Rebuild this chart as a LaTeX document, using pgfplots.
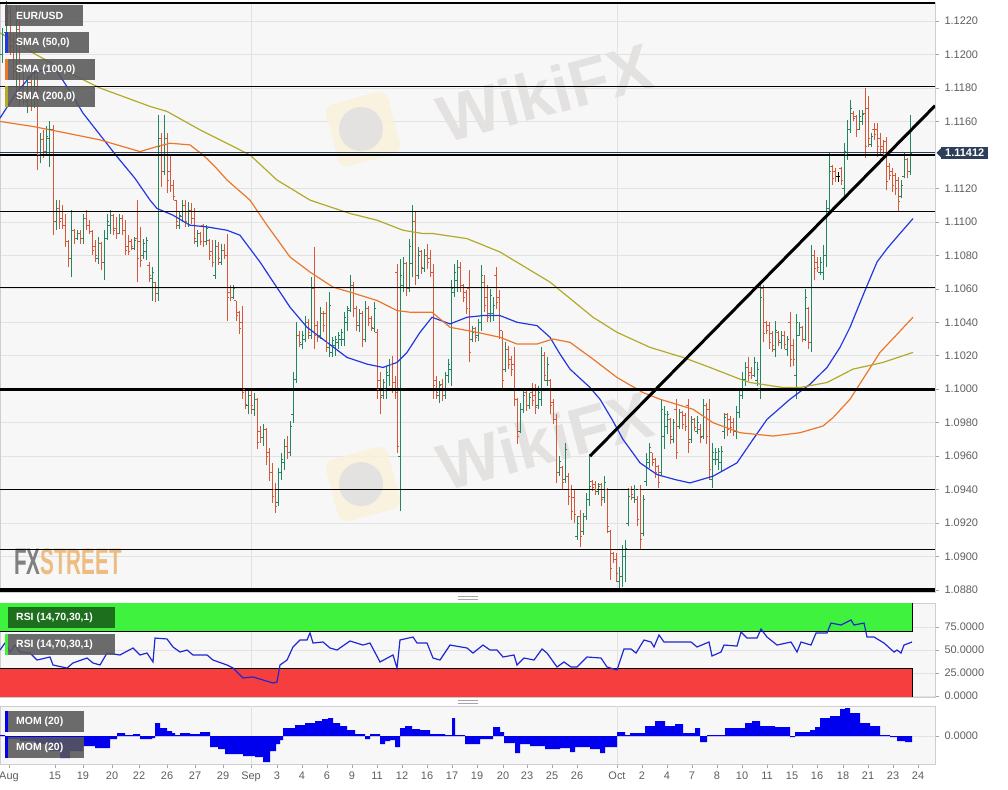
\documentclass[border=0pt]{standalone}
\usepackage{fontspec}
\setmainfont{Liberation Sans}
\usepackage{pgfplots}
\pgfplotsset{compat=1.18}
\usepackage{pgfplotstable}

\definecolor{upc}{RGB}{34,135,95}
\definecolor{dnc}{RGB}{214,88,58}
\definecolor{smaA}{RGB}{35,55,225}
\definecolor{smaB}{RGB}{236,118,44}
\definecolor{smaC}{RGB}{178,170,40}
\definecolor{bgc}{RGB}{247,247,247}
\definecolor{gridc}{RGB}{226,226,226}
\definecolor{linec}{RGB}{205,205,210}
\definecolor{tlc}{RGB}{95,95,95}
\definecolor{rsig}{RGB}{62,242,62}
\definecolor{rsir}{RGB}{246,62,62}
\definecolor{rsil}{RGB}{30,40,210}
\definecolor{momc}{RGB}{0,0,238}
\definecolor{labc}{RGB}{88,88,88}
\definecolor{rsidk}{RGB}{25,92,25}
\definecolor{lpc}{RGB}{44,62,88}
\definecolor{wmc}{RGB}{228,225,225}
\definecolor{wmy}{RGB}{250,241,218}
\definecolor{fxg}{RGB}{128,128,128}
\definecolor{fxt}{RGB}{236,188,128}

\pgfdeclareplotmark{otick}{\pgfpathmoveto{\pgfqpoint{-1.8pt}{0pt}}\pgfpathlineto{\pgfqpoint{0pt}{0pt}}\pgfusepathqstroke}
\pgfdeclareplotmark{ctick}{\pgfpathmoveto{\pgfqpoint{0pt}{0pt}}\pgfpathlineto{\pgfqpoint{1.8pt}{0pt}}\pgfusepathqstroke}

% OHLC bars, x in chart position units
\pgfplotstableread{
x o h l c
2 1.1200 1.1216 1.1195 1.1212
6 1.1213 1.1232 1.1210 1.1226
16 1.1190 1.1229 1.1173 1.1215
27 1.1172 1.1187 1.1165 1.1183
34 1.1175 1.1190 1.1168 1.1186
40 1.1140 1.1153 1.1135 1.1149
46 1.1142 1.1157 1.1140 1.1151
49 1.1150 1.1160 1.1133 1.1155
56 1.1100 1.1113 1.1095 1.1108
71 1.1078 1.1107 1.1067 1.1095
77 1.1090 1.1095 1.1089 1.1093
83 1.1090 1.1105 1.1087 1.1102
98 1.1078 1.1091 1.1075 1.1087
104 1.1076 1.1095 1.1065 1.1090
107 1.1090 1.1105 1.1089 1.1100
110 1.1098 1.1107 1.1093 1.1104
119 1.1093 1.1105 1.1093 1.1102
134 1.1084 1.1091 1.1083 1.1089
143 1.1080 1.1090 1.1078 1.1087
146 1.1082 1.1091 1.1077 1.1089
152 1.1066 1.1073 1.1053 1.1070
158 1.1057 1.1164 1.1053 1.1145
164 1.1130 1.1164 1.1128 1.1150
179 1.1098 1.1106 1.1096 1.1104
182 1.1103 1.1113 1.1100 1.1110
188 1.1099 1.1112 1.1097 1.1107
197 1.1088 1.1095 1.1085 1.1093
206 1.1088 1.1098 1.1086 1.1096
215 1.1068 1.1089 1.1066 1.1085
221 1.1076 1.1087 1.1074 1.1083
233 1.1055 1.1062 1.1054 1.1060
248 1.0990 1.0999 1.0985 1.0996
254 1.0988 1.0998 1.0984 1.0994
263 1.0971 1.0979 1.0966 1.0976
278 1.0932 1.0953 1.0930 1.0950
281 1.0950 1.0962 1.0946 1.0958
284 1.0956 1.0970 1.0952 1.0966
290 1.0962 1.0981 1.0960 1.0978
293 1.0985 1.1010 1.0980 1.1006
296 1.1006 1.1040 1.1004 1.1032
302 1.1027 1.1035 1.1024 1.1032
305 1.1030 1.1044 1.1028 1.1040
311 1.1032 1.1067 1.1030 1.1060
320 1.1032 1.1049 1.1030 1.1045
329 1.1025 1.1058 1.1019 1.1050
332 1.1022 1.1031 1.1019 1.1029
335 1.1026 1.1032 1.1020 1.1030
338 1.1028 1.1034 1.1024 1.1032
341 1.1030 1.1036 1.1026 1.1034
344 1.1030 1.1046 1.1026 1.1043
347 1.1040 1.1050 1.1035 1.1048
350 1.1047 1.1068 1.1046 1.1062
359 1.1038 1.1048 1.1034 1.1045
365 1.1030 1.1053 1.1028 1.1048
374 1.1036 1.1052 1.1034 1.1048
383 1.0996 1.1006 1.0994 1.1004
386 1.1000 1.1014 1.0994 1.1010
389 1.1008 1.1018 1.1002 1.1015
400 1.0960 1.1078 1.0927 1.1068
403 1.1062 1.1079 1.1058 1.1075
409 1.1060 1.1090 1.1058 1.1085
412 1.1075 1.1110 1.1067 1.1100
418 1.1068 1.1085 1.1066 1.1080
424 1.1072 1.1084 1.1070 1.1080
439 1.0996 1.1005 1.0992 1.1002
445 1.0996 1.1010 1.0994 1.1008
448 1.1008 1.1018 1.1004 1.1015
451 1.1012 1.1065 1.1002 1.1060
454 1.1058 1.1075 1.1055 1.1070
457 1.1065 1.1077 1.1058 1.1073
472 1.1030 1.1038 1.1028 1.1034
478 1.1032 1.1042 1.1029 1.1040
481 1.1040 1.1074 1.1035 1.1068
490 1.1045 1.1060 1.1040 1.1056
493 1.1045 1.1055 1.1041 1.1050
505 1.1012 1.1028 1.1010 1.1024
520 1.0975 1.0992 1.0974 1.0988
523 1.0988 1.1000 1.0986 1.0996
529 1.0990 1.0998 1.0988 1.0995
538 1.0990 1.1002 1.0988 1.0998
541 1.0994 1.1025 1.0990 1.1020
547 1.1005 1.1019 1.1002 1.1015
559 1.0950 1.0960 1.0948 1.0957
565 1.0946 1.0968 1.0944 1.0964
577 1.0912 1.0924 1.0910 1.0920
583 1.0915 1.0926 1.0913 1.0924
586 1.0924 1.0938 1.0922 1.0934
589 1.0934 1.0961 1.0930 1.0942
598 1.0939 1.0944 1.0937 1.0942
604 1.0935 1.0948 1.0932 1.0944
619 1.0885 1.0894 1.0880 1.0888
622 1.0888 1.0907 1.0882 1.0900
625 1.0900 1.0910 1.0885 1.0905
628 1.0920 1.0941 1.0918 1.0936
634 1.0935 1.0943 1.0932 1.0940
643 1.0914 1.0937 1.0912 1.0934
646 1.0945 1.0962 1.0942 1.0958
649 1.0956 1.0968 1.0953 1.0965
661 1.0950 1.0994 1.0948 1.0988
664 1.0972 1.0990 1.0964 1.0985
667 1.0978 1.0987 1.0973 1.0985
673 1.0970 1.0982 1.0968 1.0980
679 1.0978 1.0988 1.0976 1.0986
691 1.0970 1.0984 1.0968 1.0980
697 1.0975 1.0984 1.0973 1.0980
703 1.0972 1.0994 1.0970 1.0990
712 1.0946 1.0968 1.0941 1.0962
715 1.0958 1.0965 1.0955 1.0962
718 1.0958 1.0965 1.0952 1.0963
721 1.0956 1.0966 1.0951 1.0963
724 1.0975 1.0986 1.0970 1.0983
736 1.0975 1.0990 1.0970 1.0986
739 1.0986 1.1000 1.0983 1.0996
742 1.0996 1.1010 1.0994 1.1006
745 1.1006 1.1016 1.1002 1.1013
754 1.1008 1.1019 1.1007 1.1016
757 1.1005 1.1016 1.1002 1.1012
760 1.1000 1.1062 1.0994 1.1055
775 1.1024 1.1041 1.1019 1.1035
781 1.1028 1.1035 1.1024 1.1032
787 1.1024 1.1032 1.1020 1.1030
796 1.1008 1.1045 1.0994 1.1040
799 1.1032 1.1040 1.1032 1.1037
805 1.1030 1.1060 1.1029 1.1055
811 1.1028 1.1086 1.1022 1.1080
820 1.1070 1.1079 1.1068 1.1076
823 1.1070 1.1086 1.1065 1.1080
826 1.1080 1.1113 1.1073 1.1108
829 1.1108 1.1141 1.1105 1.1130
844 1.1120 1.1147 1.1113 1.1142
847 1.1140 1.1161 1.1137 1.1155
850 1.1155 1.1173 1.1153 1.1168
859 1.1155 1.1167 1.1155 1.1163
862 1.1160 1.1167 1.1158 1.1164
871 1.1146 1.1153 1.1145 1.1151
901 1.1115 1.1125 1.1114 1.1122
904 1.1127 1.1141 1.1126 1.1137
910 1.1130 1.1164 1.1128 1.1141
}\upbars

\pgfplotstableread{
x o h l c
10 1.1226 1.1229 1.1200 1.1205
13 1.1205 1.1212 1.1185 1.1190
19 1.1215 1.1229 1.1169 1.1180
23 1.1180 1.1190 1.1170 1.1175
31 1.1183 1.1188 1.1166 1.1175
37 1.1186 1.1190 1.1131 1.1140
43 1.1149 1.1155 1.1138 1.1142
53 1.1155 1.1158 1.1092 1.1100
59 1.1108 1.1113 1.1096 1.1100
62 1.1102 1.1110 1.1096 1.1098
65 1.1098 1.1105 1.1085 1.1088
68 1.1088 1.1089 1.1073 1.1078
74 1.1095 1.1096 1.1087 1.1090
80 1.1093 1.1095 1.1087 1.1090
86 1.1102 1.1107 1.1095 1.1098
89 1.1098 1.1101 1.1093 1.1094
92 1.1094 1.1095 1.1080 1.1083
95 1.1085 1.1089 1.1076 1.1080
101 1.1087 1.1088 1.1071 1.1076
113 1.1104 1.1105 1.1092 1.1095
116 1.1096 1.1103 1.1090 1.1093
122 1.1102 1.1104 1.1092 1.1095
125 1.1095 1.1101 1.1080 1.1083
128 1.1085 1.1092 1.1080 1.1082
131 1.1088 1.1090 1.1083 1.1085
137 1.1090 1.1113 1.1064 1.1078
140 1.1088 1.1097 1.1073 1.1077
149 1.1074 1.1076 1.1064 1.1068
155 1.1064 1.1064 1.1052 1.1057
161 1.1150 1.1153 1.1121 1.1130
167 1.1150 1.1153 1.1117 1.1125
170 1.1130 1.1140 1.1118 1.1122
173 1.1122 1.1125 1.1113 1.1115
176 1.1113 1.1113 1.1096 1.1100
185 1.1110 1.1113 1.1097 1.1100
191 1.1107 1.1111 1.1099 1.1102
194 1.1102 1.1108 1.1087 1.1090
200 1.1093 1.1094 1.1086 1.1088
203 1.1098 1.1099 1.1085 1.1088
209 1.1089 1.1090 1.1077 1.1080
212 1.1082 1.1089 1.1073 1.1076
218 1.1085 1.1088 1.1074 1.1078
224 1.1083 1.1087 1.1078 1.1080
227 1.1080 1.1093 1.1041 1.1055
230 1.1058 1.1062 1.1053 1.1055
236 1.1053 1.1053 1.1041 1.1044
239 1.1046 1.1047 1.1033 1.1036
242 1.1040 1.1050 1.0994 1.0998
245 1.1000 1.1000 1.0988 1.0991
251 1.0996 1.1000 1.0985 1.0990
257 1.0994 1.0995 1.0964 1.0968
260 1.0975 1.0978 1.0968 1.0971
266 1.0976 1.0977 1.0955 1.0960
269 1.0962 1.0965 1.0945 1.0950
272 1.0950 1.0956 1.0932 1.0936
275 1.0940 1.0944 1.0926 1.0930
287 1.0966 1.0972 1.0958 1.0962
299 1.1032 1.1035 1.1025 1.1028
308 1.1040 1.1042 1.1030 1.1034
314 1.1060 1.1085 1.1024 1.1032
317 1.1038 1.1041 1.1028 1.1031
323 1.1045 1.1047 1.1034 1.1038
326 1.1045 1.1052 1.1022 1.1028
353 1.1062 1.1064 1.1043 1.1048
356 1.1048 1.1050 1.1035 1.1040
362 1.1045 1.1047 1.1025 1.1030
368 1.1048 1.1050 1.1038 1.1040
371 1.1042 1.1044 1.1035 1.1037
377 1.1034 1.1036 1.0994 1.1000
380 1.1005 1.1010 1.0985 1.0995
392 1.1015 1.1020 1.0998 1.1004
395 1.1004 1.1008 1.0994 1.0998
397 1.1070 1.1075 1.0962 1.0966
406 1.1075 1.1076 1.1056 1.1060
415 1.1100 1.1106 1.1062 1.1068
421 1.1082 1.1083 1.1069 1.1073
427 1.1080 1.1087 1.1072 1.1076
430 1.1078 1.1083 1.1067 1.1070
433 1.1070 1.1075 1.0994 1.1002
436 1.1005 1.1008 1.0994 1.0998
442 1.1003 1.1006 1.0993 1.0996
460 1.1073 1.1076 1.1058 1.1062
463 1.1062 1.1063 1.1052 1.1055
466 1.1058 1.1059 1.1045 1.1048
469 1.1060 1.1071 1.1016 1.1022
475 1.1036 1.1037 1.1028 1.1031
484 1.1064 1.1068 1.1046 1.1050
487 1.1055 1.1062 1.1040 1.1043
496 1.1068 1.1073 1.1048 1.1052
499 1.1055 1.1059 1.1030 1.1035
502 1.1035 1.1035 1.1000 1.1005
508 1.1024 1.1026 1.1012 1.1015
511 1.1018 1.1020 1.1008 1.1012
514 1.1015 1.1025 1.0990 1.0994
517 1.0994 1.0995 1.0967 1.0972
526 1.0998 1.1000 1.0987 1.0990
532 1.0998 1.1004 1.0990 1.0993
535 1.0996 1.1003 1.0985 1.0989
544 1.1020 1.1022 1.1005 1.1008
550 1.1005 1.1006 1.0985 1.0990
553 1.0992 1.0994 1.0979 1.0982
556 1.0982 1.0985 1.0944 1.0950
562 1.0953 1.0954 1.0940 1.0944
568 1.0948 1.0950 1.0931 1.0936
571 1.0940 1.0943 1.0922 1.0927
574 1.0935 1.0940 1.0920 1.0925
580 1.0924 1.0928 1.0906 1.0912
592 1.0945 1.0946 1.0939 1.0941
595 1.0943 1.0945 1.0937 1.0940
601 1.0943 1.0944 1.0930 1.0934
607 1.0940 1.0941 1.0914 1.0918
610 1.0915 1.0916 1.0886 1.0893
613 1.0902 1.0903 1.0896 1.0898
616 1.0898 1.0902 1.0885 1.0890
631 1.0940 1.0942 1.0934 1.0937
637 1.0934 1.0936 1.0918 1.0922
640 1.0940 1.0943 1.0904 1.0910
652 1.0962 1.0962 1.0954 1.0956
655 1.0958 1.0959 1.0947 1.0950
658 1.0954 1.0955 1.0941 1.0944
670 1.0982 1.0983 1.0967 1.0972
676 1.0988 1.0994 1.0958 1.0962
682 1.0986 1.0987 1.0976 1.0979
685 1.0984 1.0986 1.0975 1.0978
688 1.0990 1.0994 1.0962 1.0968
694 1.0982 1.0983 1.0975 1.0977
700 1.0976 1.0979 1.0968 1.0971
706 1.0990 1.0992 1.0967 1.0972
709 1.0988 1.0994 1.0946 1.0952
727 1.0985 1.0986 1.0972 1.0976
730 1.0982 1.0984 1.0974 1.0977
733 1.0980 1.0983 1.0972 1.0975
748 1.1013 1.1019 1.1005 1.1008
751 1.1010 1.1013 1.1006 1.1008
763 1.1060 1.1062 1.1028 1.1033
766 1.1040 1.1041 1.1033 1.1035
769 1.1038 1.1040 1.1024 1.1028
772 1.1033 1.1035 1.1022 1.1026
778 1.1034 1.1035 1.1026 1.1029
784 1.1032 1.1035 1.1024 1.1027
790 1.1040 1.1046 1.1013 1.1018
793 1.1026 1.1030 1.1014 1.1018
802 1.1037 1.1038 1.1028 1.1030
808 1.1048 1.1049 1.1024 1.1028
814 1.1080 1.1083 1.1065 1.1072
817 1.1076 1.1079 1.1070 1.1073
832 1.1133 1.1134 1.1122 1.1126
835 1.1130 1.1132 1.1124 1.1127
841 1.1132 1.1133 1.1122 1.1125
853 1.1165 1.1166 1.1160 1.1162
856 1.1163 1.1164 1.1151 1.1155
865 1.1165 1.1180 1.1138 1.1145
868 1.1168 1.1175 1.1145 1.1150
874 1.1155 1.1159 1.1149 1.1152
877 1.1155 1.1159 1.1139 1.1145
880 1.1150 1.1153 1.1140 1.1143
883 1.1145 1.1149 1.1137 1.1140
886 1.1148 1.1151 1.1119 1.1124
889 1.1133 1.1135 1.1125 1.1128
892 1.1130 1.1132 1.1118 1.1122
895 1.1128 1.1129 1.1116 1.1120
898 1.1125 1.1127 1.1106 1.1112
907 1.1137 1.1138 1.1126 1.1130
}\dnbars

\pgfplotstableread{
x o h l c
838 1.1127 1.1130 1.1124 1.1127
}\djbars

\pgfplotsset{
  panel/.style={scale only axis, width=935bp, xmin=0, xmax=935,
    axis background/.style={fill=bgc},
    axis line style={draw=linec},
    ytick pos=right, yticklabel pos=right,
    tick align=outside, major tick length=4bp,
    tick style={draw=gray!70, line width=0.6pt},
    ymajorgrids, grid style={draw=gridc, line width=0.7pt},
    scaled y ticks=false,
    /pgf/number format/.cd, fixed, fixed zerofill, precision=4, assume math mode=true, /pgfplots/.cd,
    y tick label style={font=\fontsize{11}{13}\selectfont, text=tlc, xshift=2bp},
    x tick label style={font=\fontsize{11}{13}\selectfont, text=tlc},
  }
}

\newcommand{\ohlc}[2]{%
  \addplot[draw=none, mark=none, forget plot, error bars/.cd, y dir=plus, y explicit, error mark=none,
    error bar style={draw=#2, line width=1pt}] table[x=x, y=l, y error expr=\thisrow{h}-\thisrow{l}] {#1};
  \addplot[only marks, mark=otick, mark options={draw=#2, line width=1pt}, forget plot] table[x=x, y=o] {#1};
  \addplot[only marks, mark=ctick, mark options={draw=#2, line width=1pt}, forget plot] table[x=x, y=c] {#1};
}

\newcommand{\lbox}[6]{%
  \fill[#4, fill opacity=0.88] (#1,-#2) rectangle ++(#3,-21);
  \fill[#5] (#1,-#2) rectangle ++(2.5,-21);
  \node[anchor=west, text=white, font=\bfseries\fontsize{10.5}{12}\selectfont, inner sep=0pt] at ({#1+11},{-#2-10.5}) {#6};}

\begin{document}
\begin{tikzpicture}[x=1bp, y=1bp]
\fill[white] (0,0) rectangle (1008,-790);
\path[use as bounding box] (0,0) rectangle (1008,-790);

% ---------- main price panel ----------
\begin{axis}[panel, at={(0bp,-2bp)}, anchor=north west, height=590bp,
  ymin=1.08788, ymax=1.12314, xtick=\empty,
  ytick={1.088,1.090,1.092,1.094,1.096,1.098,1.100,1.102,1.104,1.106,1.108,1.110,1.112,1.116,1.118,1.120,1.122}]
  % watermarks
  \node[rotate=15, fill=wmy, rounded corners=9bp, minimum size=64bp, opacity=0.8] at (axis cs:363,1.11555) {};
  \node[circle, fill=wmc, minimum size=44bp] at (axis cs:361,1.11555) {};
  \node[rotate=15, text=wmc, font=\bfseries\fontsize{66}{66}\selectfont] at (axis cs:545,1.11776) {WikiFX};
  \node[rotate=15, fill=wmy, rounded corners=9bp, minimum size=64bp, opacity=0.8] at (axis cs:363,1.09433) {};
  \node[circle, fill=wmc, minimum size=44bp] at (axis cs:361,1.09433) {};
  \node[rotate=15, text=wmc, font=\bfseries\fontsize{66}{66}\selectfont] at (axis cs:545,1.09696) {WikiFX};
  \node[anchor=west, xscale=0.56, font=\bfseries\fontsize{37}{37}\selectfont, inner sep=0pt] at (axis cs:14,1.0897) {\textcolor{fxg}{FX}\textcolor{fxt}{STREET}};
  % Sep / Oct separators
  \addplot[gridc, line width=0.7pt, forget plot] coordinates {(251,1.08788) (251,1.12314)};
  \addplot[gridc, line width=0.7pt, forget plot] coordinates {(617,1.08788) (617,1.12314)};
  % bars
  \ohlc{\upbars}{upc}
  \ohlc{\dnbars}{dnc}
  \ohlc{\djbars}{black}
  % SMA 50
  \addplot[smaA, line width=1.2pt] coordinates {
  (0,1.1162) (15,1.1176) (33,1.1189) (45,1.1191) (57,1.1190) (70,1.1178) (83,1.1165) (100,1.1152)
  (117,1.1139) (135,1.1126) (150,1.1113) (157,1.1108) (173,1.1104) (190,1.1098) (207,1.1097)
  (227,1.1095) (240,1.1092) (250,1.1084) (260,1.1076) (270,1.1067) (280,1.1058) (290,1.1049)
  (307,1.1037) (327,1.1028) (347,1.1019) (367,1.1015) (383,1.1013) (397,1.1016) (407,1.1022)
  (420,1.1034) (432,1.1043) (450,1.1039) (467,1.1043) (483,1.1044) (500,1.1044) (517,1.1040)
  (537,1.1038) (550,1.1031) (560,1.1021) (570,1.1012) (590,1.1001) (600,1.0994) (612,1.0982)
  (623,1.0970) (640,1.0956) (657,1.0949) (675,1.0946) (690,1.0944) (713,1.0948) (737,1.0956)
  (753,1.0970) (767,1.0982) (790,1.0994) (810,1.1003) (827,1.1013) (840,1.1025) (850,1.1037)
  (865,1.1059) (877,1.1076) (887,1.1084) (897,1.1091) (913,1.1102)};
  % SMA 100
  \addplot[smaB, line width=1.2pt] coordinates {
  (0,1.1160) (33,1.1157) (67,1.1153) (100,1.1149) (140,1.1142) (157,1.1145) (170,1.1147)
  (190,1.1146) (203,1.1140) (215,1.1133) (227,1.1125) (250,1.1113) (267,1.1098) (290,1.1079)
  (310,1.1070) (333,1.1061) (350,1.1058) (377,1.1053) (397,1.1047) (410,1.1046) (432,1.1046)
  (450,1.1037) (477,1.1034) (500,1.1031) (517,1.1027) (537,1.1027) (553,1.1030) (570,1.1028)
  (593,1.1018) (617,1.1007) (643,1.0998) (660,1.0994) (693,1.0988) (713,1.0980) (740,1.0974)
  (773,1.0972) (800,1.0974) (823,1.0978) (833,1.0983) (850,1.0994) (865,1.1008) (880,1.1022)
  (913,1.1043)};
  % SMA 200
  \addplot[smaC, line width=1.2pt] coordinates {
  (0,1.1213) (33,1.1201) (66,1.1190) (100,1.1180) (150,1.1169) (167,1.1166) (200,1.1155)
  (250,1.1140) (277,1.1125) (310,1.1113) (350,1.1105) (377,1.1101) (403,1.1095) (423,1.1093)
  (433,1.1093) (467,1.1090) (500,1.1082) (550,1.1064) (593,1.1043) (617,1.1034) (650,1.1025)
  (683,1.1019) (710,1.1013) (740,1.1006) (750,1.1004) (783,1.1001) (800,1.1001) (827,1.1004)
  (853,1.1012) (883,1.1016) (913,1.1022)};
  % horizontal levels
  \addplot[black, line width=1.2pt] coordinates {(0,1.12308) (935,1.12308)};
  \addplot[black, line width=1.2pt] coordinates {(0,1.1181) (935,1.1181)};
  \addplot[black, line width=1.2pt] coordinates {(0,1.1140) (935,1.1140)};
  \addplot[lpc, line width=1pt] coordinates {(0,1.11412) (935,1.11412)};
  \addplot[black, line width=1.2pt] coordinates {(0,1.1106) (935,1.1106)};
  \addplot[black, line width=1.2pt] coordinates {(0,1.1061) (935,1.1061)};
  \addplot[black, line width=3.2pt] coordinates {(0,1.1000) (935,1.1000)};
  \addplot[black, line width=1.2pt] coordinates {(0,1.0940) (935,1.0940)};
  \addplot[black, line width=1.2pt] coordinates {(0,1.0904) (935,1.0904)};
  \addplot[black, line width=3.2pt] coordinates {(0,1.0880) (935,1.0880)};
  % trend line
  \addplot[black, line width=3pt] coordinates {(590,1.0960) (935,1.11694)};
  \coordinate (lastp) at (axis cs:935,1.11412);
\end{axis}

% last price tag
\fill[lpc] ([xshift=1.5bp]lastp) -- ++(5,5) -- ++(0,-10) -- cycle;
\node[anchor=west, fill=lpc, text=white, font=\bfseries\fontsize{11}{13}\selectfont, inner xsep=4bp, inner ysep=2.5bp] at ([xshift=6bp]lastp) {1.11412};

% panel handles
\draw[gray!70, line width=0.7pt] (458,-596.5) -- (478,-596.5) (458,-599) -- (478,-599);
\draw[gray!70, line width=0.7pt] (458,-700.5) -- (478,-700.5) (458,-703) -- (478,-703);

% ---------- RSI panel ----------
\begin{axis}[panel, at={(0bp,-603bp)}, anchor=north west, height=94bp,
  ymin=-1.1, ymax=101.1, xtick=\empty, ytick={0,25,50,75}]
  \addplot[gridc, line width=0.7pt, forget plot] coordinates {(251,-1.1) (251,101.1)};
  \addplot[gridc, line width=0.7pt, forget plot] coordinates {(617,-1.1) (617,101.1)};
  \addplot[fill=rsig, draw=none] coordinates {(0,70) (912,70) (912,101.1) (0,101.1)} -- cycle;
  \addplot[fill=rsir, draw=none] coordinates {(0,-1.1) (912,-1.1) (912,30) (0,30)} -- cycle;
  \addplot[black, line width=0.9pt] coordinates {(0,70) (912,70) (912,101.1)};
  \addplot[black, line width=0.9pt] coordinates {(0,30) (912,30) (912,-1.1)};
  \addplot[rsil, line width=1.2pt] coordinates {
  (0,50.0) (5,57.6) (10,47.8) (15,55.4) (20,47.8) (30,46.7) (37,39.1) (50,42.4) (53,33.7)
  (67,30.4) (73,35.9) (87,41.3) (93,35.9) (100,33.7) (107,46.7) (120,44.6) (133,52.2)
  (140,44.6) (147,46.7) (153,37.0) (155,63.0) (167,62.0) (173,53.3) (180,47.8) (187,50.0)
  (193,44.6) (207,44.6) (213,39.1) (227,33.7) (233,30.4) (243,19.6) (253,20.7) (263,17.4)
  (273,14.1) (277,15.2) (280,33.7) (287,39.1) (293,53.3) (300,60.9) (307,60.9) (310,68.5)
  (313,57.6) (323,58.7) (330,52.2) (337,50.0) (350,59.8) (363,55.4) (370,57.6) (380,37.0)
  (393,44.6) (397,30.4) (400,60.9) (413,64.1) (417,57.6) (427,57.6) (433,41.3) (440,39.1)
  (450,55.4) (467,52.2) (473,46.7) (483,55.4) (490,50.0) (497,50.0) (503,42.4) (514,44.6)
  (517,33.7) (524,41.3) (534,39.1) (542,51.1) (547,46.7) (557,31.5) (564,37.0) (571,31.5)
  (577,31.5) (587,42.4) (601,41.3) (607,31.5) (617,28.3) (624,51.1) (631,51.1) (636,46.7)
  (644,60.9) (651,58.7) (654,53.3) (659,66.3) (664,58.7) (681,58.7) (691,58.7) (697,53.3)
  (709,58.7) (712,43.5) (721,47.8) (724,55.4) (737,54.3) (741,69.6) (747,63.0) (757,63.0)
  (761,72.8) (767,64.1) (777,55.4) (791,58.7) (797,47.8) (801,58.7) (811,55.4) (816,68.5)
  (827,68.5) (831,79.3) (841,77.2) (851,82.6) (854,77.2) (864,79.3) (867,64.1) (874,64.1)
  (884,57.6) (894,47.8) (897,50.0) (901,46.7) (904,55.4) (912,58.7)};
\end{axis}

% ---------- MOM panel ----------
\begin{axis}[panel, at={(0bp,-706bp)}, anchor=north west, height=58bp,
  ymin=-0.0056, ymax=0.0060, ytick={0},
  xtick pos=bottom,
  xtick={9,55,83,112,139,167,195,223,251,277,302,327,352,377,402,427,452,477,503,527,552,577,617,642,667,692,717,742,767,792,817,843,868,893,918},
  xticklabels={Aug,15,19,20,22,26,27,29,Sep,3,4,6,9,11,12,16,17,19,20,23,25,26,Oct,2,4,7,8,10,11,15,16,18,21,23,24}]
  \addplot[gridc, line width=0.7pt, forget plot] coordinates {(251,-0.0056) (251,0.006)};
  \addplot[gridc, line width=0.7pt, forget plot] coordinates {(617,-0.0056) (617,0.006)};
  \addplot[const plot, fill=momc, draw=none] coordinates {
  (0,0.0002) (5,-0.0006) (20,-0.0010) (35,-0.0016) (50,-0.0030) (60,-0.0044) (70,-0.0030)
  (83,-0.0020) (95,-0.0024) (110,-0.0006) (117,0.0006) (125,0.0002) (133,0.0004) (140,-0.0006)
  (152,-0.0004) (155,0.0026) (160,0.0016) (167,0.0010) (172,0.0006) (175,0.0002) (180,0.0006)
  (190,0.0004) (200,0.0008) (210,-0.0022) (218,-0.0026) (225,-0.0036) (243,-0.0040)
  (255,-0.0042) (263,-0.0052) (270,-0.0030) (276,-0.0016) (280,-0.0008) (283,0.0016)
  (295,0.0022) (305,0.0026) (315,0.0030) (322,0.0034) (328,0.0036) (333,0.0026) (340,0.0020)
  (347,0.0012) (355,0.0004) (365,-0.0006) (370,0.0004) (380,-0.0016) (385,-0.0010)
  (390,-0.0008) (395,-0.0022) (400,0.0016) (405,0.0020) (412,0.0014) (420,0.0012)
  (430,0.0004) (445,0.0002) (452,0.0036) (455,0.0002) (465,-0.0016) (480,-0.0006)
  (493,0.0018) (500,0.0008) (504,-0.0014) (515,-0.0034) (520,-0.0016) (530,-0.0020)
  (545,-0.0026) (560,-0.0024) (570,-0.0032) (575,-0.0022) (590,-0.0026) (600,-0.0034)
  (605,-0.0022) (617,0.0008) (625,0.0002) (630,0.0006) (645,0.0020) (655,0.0030) (665,0.0020)
  (675,0.0024) (683,0.0006) (695,0.0016) (700,-0.0012) (707,0.0002) (715,0.0002) (725,0.0016)
  (745,0.0026) (752,0.0030) (760,0.0020) (775,0.0018) (790,-0.0002) (795,0.0008) (810,0.0012)
  (815,0.0018) (820,0.0036) (830,0.0040) (840,0.0054) (845,0.0056) (850,0.0046) (860,0.0026)
  (870,0.0020) (880,0.0002) (890,-0.0002) (897,-0.0010) (905,-0.0012) (912,-0.0012)} \closedcycle;
\end{axis}

% ---------- legend boxes ----------
\lbox{5}{5}{78}{labc}{labc}{EUR/USD}
\lbox{5}{32}{84}{labc}{smaA}{SMA (50,0)}
\lbox{5}{59}{90}{labc}{smaB}{SMA (100,0)}
\lbox{5}{86}{90}{labc}{smaC}{SMA (200,0)}
\lbox{5}{607}{110}{rsidk}{rsig}{RSI (14,70,30,1)}
\lbox{5}{634}{110}{labc}{rsig}{RSI (14,70,30,1)}
\lbox{5}{711}{79}{labc}{momc}{MOM (20)}
\lbox{5}{737}{79}{labc}{momc}{MOM (20)}
\end{tikzpicture}
\end{document}
